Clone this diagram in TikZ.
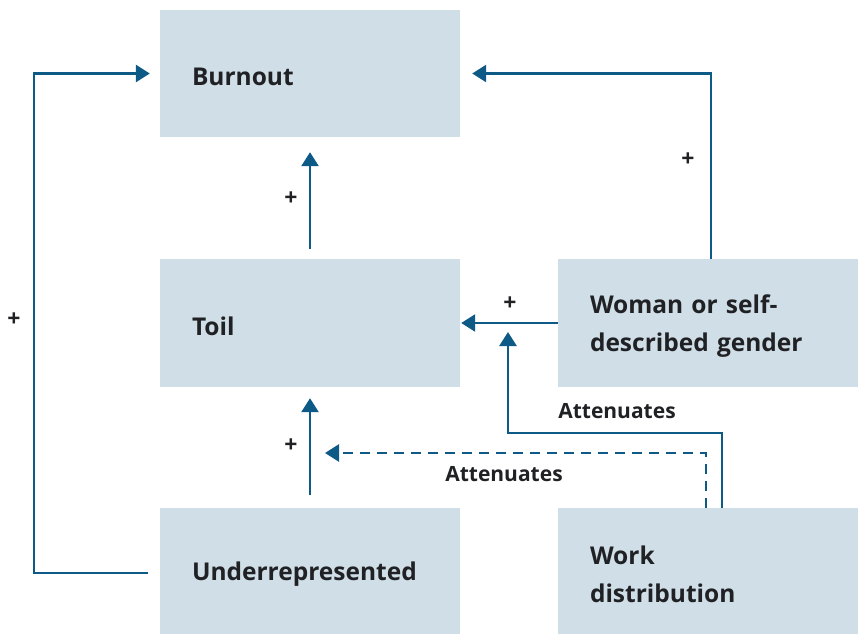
\documentclass[tikz,border=0pt]{standalone}
\usepackage{fontspec}
\setmainfont{Open Sans}
\usepackage{xcolor}
\usetikzlibrary{arrows.meta,positioning,calc}

\definecolor{boxblue}{HTML}{D0DEE7}
\definecolor{linkblue}{HTML}{0E5A87}
\definecolor{inkgray}{HTML}{202124}

\tikzset{
  factor/.style={rectangle,fill=boxblue,minimum width=300pt,text width=236pt,inner xsep=32pt,inner ysep=0pt,text height=24.5pt,align=left,font=\fontsize{24.5}{38}\selectfont\bfseries,text=inkgray},
  link/.style={draw=linkblue,line width=2.6pt,-{Triangle[length=14pt,width=17pt]}},
  sign/.style={font=\fontsize{23}{23}\selectfont\bfseries,text=inkgray},
  note/.style={font=\fontsize{21}{21}\selectfont\bfseries,text=inkgray}
}

\begin{document}
\begin{tikzpicture}[x=1pt,y=-1pt]
\useasboundingbox (0,0) rectangle (858,634);

% Factors
\node[factor,minimum height=127pt] (burnout) at (310,73.5) {Burnout};
\node[factor,minimum height=128pt] (toil) at (310,323) {Toil};
\node[factor,minimum height=126pt] (under) at (310,571) {Underrepresented};
\node[factor,minimum height=128pt] (woman) at (708,323) {Woman or self-\\described gender};
\node[factor,minimum height=126pt] (work) at (708,571) {Work\\distribution};

% Points on links that are attenuated
\coordinate (womtoil) at (508,322);
\coordinate (worktop) at (508,433);
\coordinate (undtoil) at (310,453);

% Direct effects
\draw[link,shorten <=10pt,shorten >=15pt] (toil.north) -- (burnout.south);
\draw[link,shorten <=13pt,shorten >=11pt] (under.north) -- (toil.south);
\draw[link,shorten <=12pt,shorten >=10pt] ([yshift=-2pt]under.west) -- ++(-126,0) |- (burnout.west);
\draw[link,shorten >=12pt] ([xshift=3pt]woman.north) |- (burnout.east);
\draw[link,shorten >=1pt] (woman.west) -- (toil.east);

% Moderation
\draw[link,shorten >=10pt] ([xshift=14pt]work.north) |- (worktop) -- (womtoil);
\draw[link,dashed,dash pattern=on 10pt off 7pt,shorten >=15pt] ([xshift=-2pt]work.north) |- (undtoil);

% Signs and notes
\node[sign] (s1) at (291,199) {+};
\node[sign] (s2) at (291,446) {+};
\node[sign] (s3) at (14,320) {+};
\node[sign] (s4) at (688,160) {+};
\node[sign] (s5) at (510,304) {+};
\node[note] (n1) at (617,411) {Attenuates};
\node[note] (n2) at (504,474) {Attenuates};

\end{tikzpicture}
\end{document}
